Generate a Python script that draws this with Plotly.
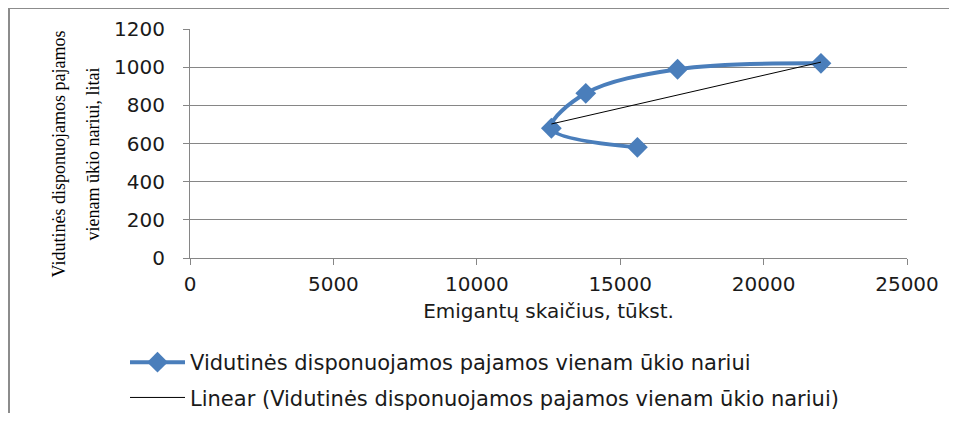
"""Emigration vs disposable income scatter with linear trend."""

import numpy as np
import plotly.graph_objects as go

# data
emigrants = [15600, 12600, 13800, 17000, 22000]
income = [580, 680, 863, 989, 1020]

series_name = "Vidutinės disponuojamos pajamos vienam ūkio nariui"
trend_name = "Linear (Vidutinės disponuojamos pajamos vienam ūkio nariui)"
x_title = "Emigantų skaičius, tūkst."
y_title_lines = ["Vidutinės disponuojamos pajamos", "vienam ūkio nariui, litai"]

x_ticks = [0, 5000, 10000, 15000, 20000, 25000]
y_ticks = [0, 200, 400, 600, 800, 1000, 1200]

# page body adds an 8px offset, so the figure is laid out 8px smaller
W, H = 941, 405
L, R, T, B = 182, 42, 21, 155
pw, ph = W - L - R, H - T - B


def px_x(px):
    return (px - L) / pw


def px_y(py):
    return (T + ph - py) / ph


# linear trend over the data range
slope, intercept = np.polyfit(emigrants, income, 1)
trend_x = [min(emigrants), max(emigrants)]
trend_y = [slope * v + intercept for v in trend_x]

fig = go.Figure()
fig.add_trace(go.Scatter(
    x=emigrants, y=income, name=series_name, mode="lines+markers",
    line=dict(color="#4a7ebb", width=4, shape="spline", smoothing=1.0),
    marker=dict(symbol="diamond", size=16, color="#4a7ebb"),
    legendgroup="a",
))
fig.add_trace(go.Scatter(
    x=trend_x, y=trend_y, name=trend_name, mode="lines",
    line=dict(color="black", width=1),
    legendgroup="b",
))

axis_font = dict(family="DejaVu Sans", size=20, color="#1a1a1a")

annotations = []
for line, cx in zip(y_title_lines, [50, 84]):
    annotations.append(dict(
        text=line, xref="paper", yref="paper", x=px_x(cx), y=0.5,
        xanchor="center", yanchor="middle", yshift=-11,
        textangle=-90, showarrow=False,
        font=dict(family="Liberation Serif", size=18, color="black"),
    ))

fig.update_layout(
    width=W, height=H,
    margin=dict(l=L, r=R, t=T, b=B, autoexpand=False),
    paper_bgcolor="white", plot_bgcolor="white",
    showlegend=True,
    legend=dict(
        x=px_x(117), y=px_y(334), xanchor="left", yanchor="top",
        font=dict(family="DejaVu Sans", size=21, color="#1a1a1a"),
        tracegroupgap=5, itemwidth=55, bgcolor="rgba(0,0,0,0)",
    ),
    xaxis=dict(
        range=[0, 25000], tickvals=x_ticks, ticktext=[str(v) for v in x_ticks],
        showgrid=False, zeroline=False, showline=True, linecolor="#868686",
        ticks="outside", ticklen=6, tickcolor="#868686",
        tickfont=axis_font, ticklabelstandoff=2,
        title=dict(text=x_title, font=axis_font, standoff=8),
    ),
    yaxis=dict(
        range=[0, 1200], tickvals=y_ticks, ticktext=[str(v) for v in y_ticks],
        showgrid=True, gridcolor="#868686", gridwidth=1,
        zeroline=False, showline=True, linecolor="#868686",
        ticks="outside", ticklen=6, tickcolor="#868686",
        tickfont=axis_font, ticklabelstandoff=14,
    ),
    annotations=annotations,
    shapes=[dict(
        type="rect", xref="paper", yref="paper", layer="below",
        x0=px_x(1), x1=px_x(W + 20), y0=px_y(H + 20), y1=px_y(0),
        line=dict(color="#8c8c8c", width=2), fillcolor="rgba(0,0,0,0)",
    )],
)

fig.write_html("out.html")
